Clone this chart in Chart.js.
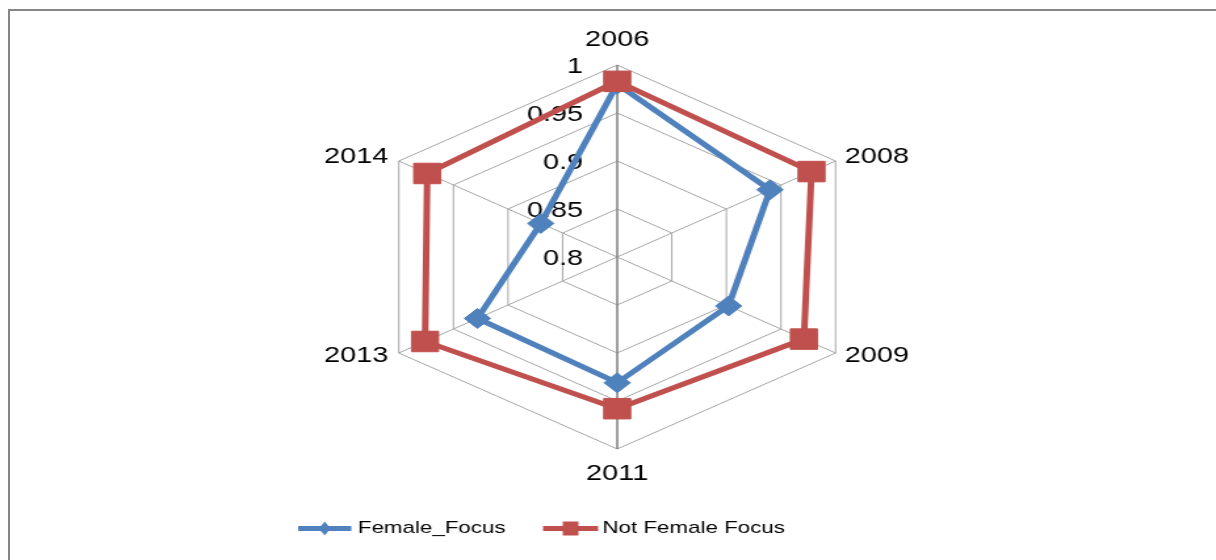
<!DOCTYPE html>
<html>
<head>
<meta charset="utf-8">
<script src="https://cdn.jsdelivr.net/npm/chart.js@4/dist/chart.umd.min.js"></script>
<style>
  html, body { margin: 0; padding: 0; background: #ffffff; overflow: hidden; }
  #wrap { position: relative; width: 1216px; height: 560px; }
  #frame { position: absolute; left: 8px; top: 9px; width: 1300px; height: 700px;
           border-left: 2px solid #868686; border-top: 2px solid #868686; pointer-events: none; }
</style>
</head>
<body>
<div id="wrap">
  <canvas id="c" width="926" height="560" style="display:block;width:1216px;height:560px;"></canvas>
  <div id="frame"></div>
</div>
<script>
const categories = ['2006', '2008', '2009', '2011', '2013', '2014'];
const seriesNames = ['Female_Focus', 'Not Female Focus'];
const femaleFocus = [0.980, 0.940, 0.902, 0.931, 0.928, 0.870];
const notFemaleFocus = [0.983, 0.978, 0.971, 0.958, 0.976, 0.974];
const tickValues = [0.8, 0.85, 0.9, 0.95, 1];
const tickLabels = ['0.8', '0.85', '0.9', '0.95', '1'];

const BLUE = '#4F81BD';
const RED = '#C0504D';
const FONT = '"Liberation Sans", Arial, sans-serif';

const textPlugin = {
  id: 'textPlugin',
  beforeDatasetsDraw(chart) {
    const s = chart.scales.r;
    const ctx = chart.ctx;
    ctx.save();
    ctx.fillStyle = '#000000';
    ctx.textBaseline = 'middle';
    ctx.font = '22px ' + FONT;
    ctx.textAlign = 'right';
    tickValues.forEach((v, i) => {
      const d = s.getDistanceFromCenterForValue(v);
      ctx.fillText(tickLabels[i], s.xCenter - 26, s.yCenter - d + 1.5);
    });
    categories.forEach((c, i) => {
      const p = s.getPointPosition(i, s.drawingArea);
      const dx = Math.cos(p.angle), dy = Math.sin(p.angle);
      let x = p.x, y = p.y;
      if (Math.abs(dx) < 0.01) {
        ctx.textAlign = 'center';
        y += dy < 0 ? -25.5 : 25;
      } else {
        ctx.textAlign = dx > 0 ? 'left' : 'right';
        x += dx > 0 ? 7 : -8;
        y += dy < 0 ? -4.5 : 2.5;
      }
      ctx.fillText(c, x, y);
    });
    ctx.restore();
  },
  afterDraw(chart) {
    const ctx = chart.ctx;
    const y = 528.5;
    const items = [
      { name: seriesNames[0], color: BLUE, x0: 227, x1: 267.5, tx: 272.5, marker: 'diamond' },
      { name: seriesNames[1], color: RED, x0: 413.5, x1: 455.5, tx: 458.8, marker: 'square' }
    ];
    ctx.save();
    items.forEach(it => {
      ctx.strokeStyle = it.color;
      ctx.lineWidth = 5;
      ctx.beginPath();
      ctx.moveTo(it.x0, y);
      ctx.lineTo(it.x1, y);
      ctx.stroke();
      const cx = (it.x0 + it.x1) / 2;
      ctx.fillStyle = it.color;
      ctx.beginPath();
      if (it.marker === 'diamond') {
        ctx.moveTo(cx, y - 7); ctx.lineTo(cx + 4.5, y); ctx.lineTo(cx, y + 7); ctx.lineTo(cx - 4.5, y);
        ctx.closePath();
      } else {
        ctx.rect(cx - 6, y - 7, 12, 14);
      }
      ctx.fill();
      ctx.fillStyle = '#000000';
      ctx.font = '17px ' + FONT;
      ctx.textAlign = 'left';
      ctx.textBaseline = 'middle';
      ctx.fillText(it.name, it.tx, y);
    });
    ctx.restore();
  }
};

new Chart(document.getElementById('c'), {
  type: 'radar',
  data: {
    labels: categories,
    datasets: [
      {
        label: seriesNames[0],
        data: femaleFocus,
        borderColor: BLUE,
        backgroundColor: BLUE,
        borderWidth: 5,
        fill: false,
        pointStyle: 'rectRot',
        pointRadius: 10,
        pointBorderWidth: 1,
        pointBackgroundColor: BLUE,
        pointBorderColor: BLUE,
        order: 1
      },
      {
        label: seriesNames[1],
        data: notFemaleFocus,
        borderColor: RED,
        backgroundColor: RED,
        borderWidth: 5,
        fill: false,
        pointStyle: 'rect',
        pointRadius: 14.5,
        pointBorderWidth: 1,
        pointBackgroundColor: RED,
        pointBorderColor: RED,
        order: 0
      }
    ]
  },
  options: {
    responsive: false,
    devicePixelRatio: 1,
    animation: false,
    layout: { padding: { top: 65, bottom: 110, left: 100, right: 86 } },
    plugins: {
      legend: { display: false },
      tooltip: { enabled: false }
    },
    scales: {
      r: {
        min: 0.8,
        max: 1,
        beginAtZero: false,
        ticks: { stepSize: 0.05, display: false },
        pointLabels: { display: false },
        grid: { color: '#a6a6a6', lineWidth: 1 },
        angleLines: {
          color: (ctx) => (ctx.index === 0 || ctx.index === 3) ? '#868686' : '#a6a6a6',
          lineWidth: (ctx) => (ctx.index === 0 || ctx.index === 3) ? 1.6 : 1
        }
      }
    }
  },
  plugins: [textPlugin]
});
</script>
</body>
</html>
